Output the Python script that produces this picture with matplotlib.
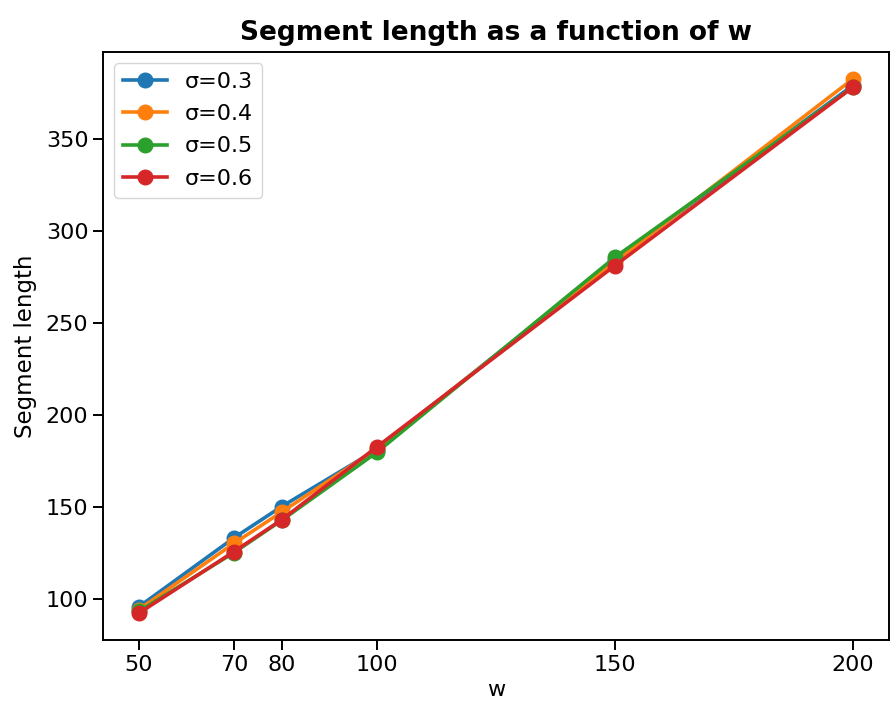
import matplotlib.pyplot as plt

w = [50, 70, 80, 100, 150, 200]
sigmas = ["σ=0.3", "σ=0.4", "σ=0.5", "σ=0.6"]
seg_03 = [95.5, 133, 150, 181, 284, 379]
seg_04 = [94, 130, 147, 181.5, 283, 382.5]
seg_05 = [93, 125, 142.5, 179.5, 285.5, 378]
seg_06 = [92, 125.5, 142.8, 182.4, 281, 378]
series = [seg_03, seg_04, seg_05, seg_06]

plt.rcParams['font.size'] = 16

fig = plt.figure(figsize=(8.9, 7.08), dpi=100)
ax = fig.add_axes([0.1157, 0.096, 0.883, 0.8305])

for lab, vals in zip(sigmas, series):
    ax.plot(w, vals, marker='o', linewidth=2.6, markersize=10.5, label=lab)

ax.set_xticks(w)
ax.set_title("Segment length as a function of w", fontweight='bold', fontsize=19, pad=9)
ax.set_xlabel("w", fontsize=16)
ax.set_ylabel("Segment length", fontsize=16.5, labelpad=6)
ax.legend(loc='upper left', fontsize=16, labelspacing=0.55)

for s in ax.spines.values():
    s.set_linewidth(1.4)
ax.tick_params(width=1.4, length=7, labelsize=16)

fig.savefig("out.png", dpi=100)
